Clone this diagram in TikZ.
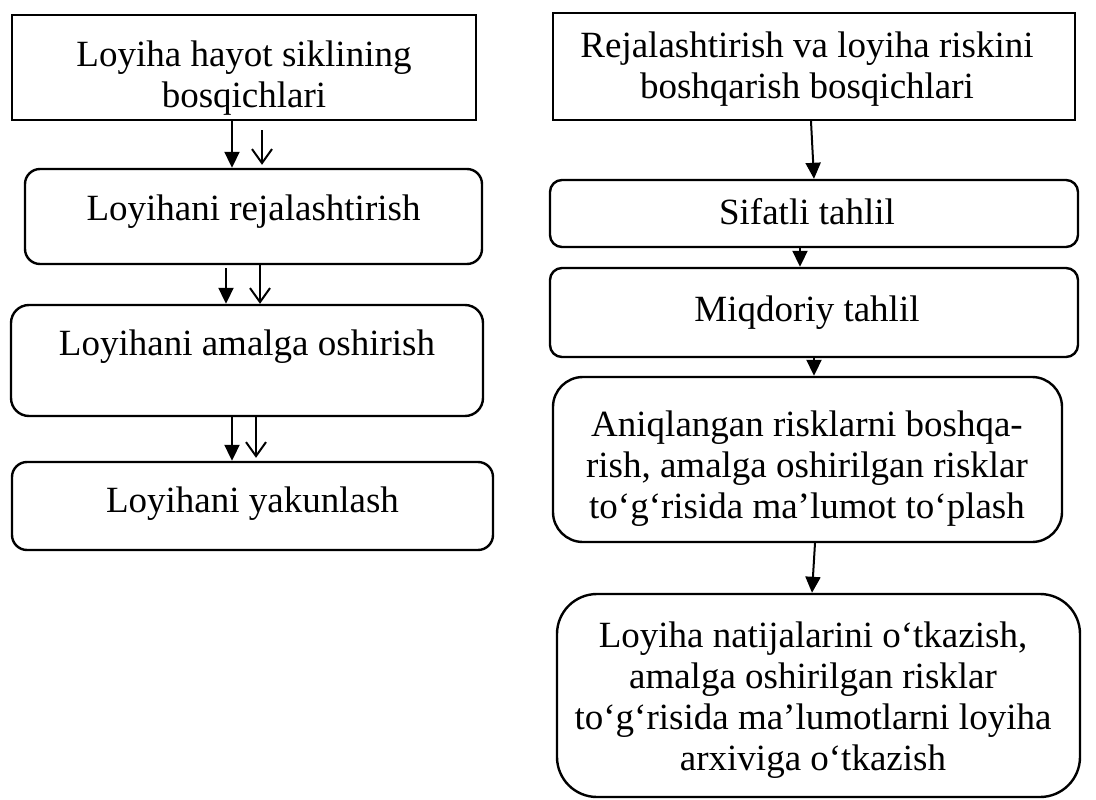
\documentclass[tikz,border=0pt]{standalone}
\usepackage{fontspec}
\setmainfont{Liberation Serif}
\usetikzlibrary{arrows.meta,fit}
\begin{document}
\begin{tikzpicture}[x=1pt,y=-1pt,
  sqbox/.style={draw, line width=2.4pt, inner sep=0pt},
  rbox/.style={draw, line width=2.4pt, inner sep=0pt, rounded corners=#1},
  txt/.style={align=center, inner sep=0pt, anchor=base, font=\fontsize{37}{41}\selectfont},
  fa/.style={line width=2pt, -{Triangle[length=16pt,width=15pt]}},
  oa/.style={line width=2pt, -{Straight Barb[length=14pt,width=20pt,line width=2pt]}}
]
\useasboundingbox (0,0) rectangle (1096,800);
% left column
\node[sqbox, fit={(12,15) (476,120)}] (L1) {};
\node[rbox=15pt, fit={(25,169) (482,264)}] (L2) {};
\node[rbox=18pt, fit={(11,305) (483,416)}] (L3) {};
\node[rbox=15pt, fit={(12,462) (493,550)}] (L4) {};
% base anchor of a multi-line text = baseline of its last line
\node[txt] (L1t) at (244,107) {Loyiha hayot siklining\\bosqichlari};
\node[txt] (L2t) at (253.5,220) {Loyihani rejalashtirish};
\node[txt] (L3t) at (247,355) {Loyihani amalga oshirish};
\node[txt] (L4t) at (252.5,512) {Loyihani yakunlash};
% right column
\node[sqbox, fit={(553,13) (1075,120)}] (R1) {};
\node[rbox=12pt, fit={(550,180) (1078,247)}] (R2) {};
\node[rbox=12pt, fit={(550,268) (1078,357)}] (R3) {};
\node[rbox=30pt, fit={(553,377) (1062,542)}] (R4) {};
\node[rbox=40pt, fit={(557,594) (1080,797)}] (R5) {};
\node[txt] (R1t) at (807,99) {Rejalashtirish va loyiha riskini\\boshqarish bosqichlari};
\node[txt] (R2t) at (807,224) {Sifatli tahlil};
\node[txt] (R3t) at (807,321) {Miqdoriy tahlil};
\node[txt] (R4t) at (807,518) {Aniqlangan risklarni boshqa-\\rish, amalga oshirilgan risklar\\to‘g‘risida ma’lumot to‘plash};
\node[txt] (R5t) at (813,770) {Loyiha natijalarini o‘tkazish,\\amalga oshirilgan risklar\\to‘g‘risida ma’lumotlarni loyiha\\arxiviga o‘tkazish};
% x positions of connectors
\coordinate (xa) at (232,0);
\coordinate (xb) at (262,0);
\coordinate (xc) at (226,0);
\coordinate (xd) at (260,0);
\coordinate (xe) at (232,0);
\coordinate (xf) at (256,0);
\coordinate (ob1) at (262,130);
\coordinate (fb2) at (226,268);
% left connectors
\draw[fa] (L1.south -| xa) -- (L2.north -| xa);
\draw[oa, shorten >=3pt] (ob1) -- (L2.north -| xb);
\draw[fa] (fb2) -- (L3.north -| xc);
\draw[oa] (L2.south -| xd) -- (L3.north -| xd);
\draw[fa] (L3.south -| xe) -- (L4.north -| xe);
\draw[oa, shorten >=3pt] (L3.south -| xf) -- (L4.north -| xf);
% right connectors
\coordinate (r1a) at (811,0);
\coordinate (r1b) at (814,0);
\coordinate (r2) at (800,0);
\coordinate (r3) at (814,0);
\coordinate (r4a) at (815,0);
\coordinate (r4b) at (812,0);
\draw[fa] (R1.south -| r1a) -- (R2.north -| r1b);
\draw[fa] (R2.south -| r2) -- (R3.north -| r2);
\draw[fa] (R3.south -| r3) -- (R4.north -| r3);
\draw[fa] (R4.south -| r4a) -- (R5.north -| r4b);
\end{tikzpicture}
\end{document}
